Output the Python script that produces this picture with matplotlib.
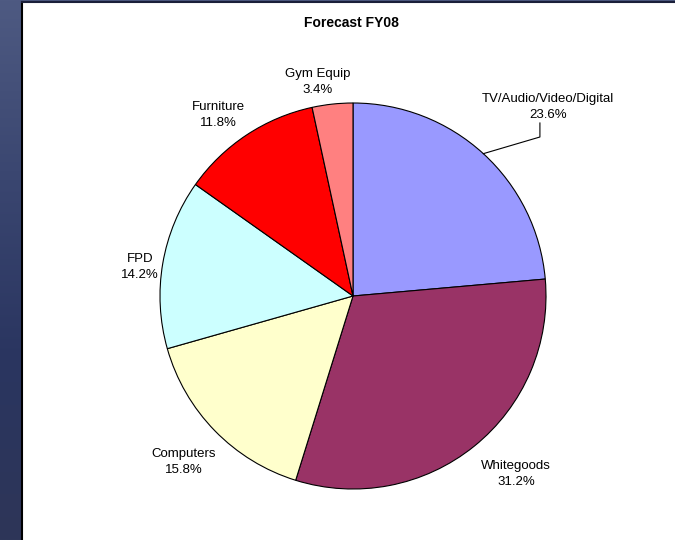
import numpy as np
import matplotlib
matplotlib.use("Agg")
import matplotlib.pyplot as plt

# Forecast FY08 shares
categories = ['TV/Audio/Video/Digital', 'Whitegoods', 'Computers', 'FPD', 'Furniture', 'Gym Equip']
shares = [23.6, 31.2, 15.8, 14.2, 11.8, 3.4]
colors = ['#9999FF', '#993366', '#FFFFCC', '#CCFFFF', '#FF0000', '#FF8080']
# label placement: distance (in radii) and angle shift (deg) from slice middle
label_dist = [1.414, 1.243, 1.22, 1.115, 1.178, 1.134]
label_shift = [-3.1, 3.9, -0.2, 1.4, 2.9, 3.1]

plt.rcParams['font.family'] = ['Liberation Sans', 'DejaVu Sans']

fig = plt.figure(figsize=(6.75, 5.4), dpi=100)

# slide background strip on the left
bg = fig.add_axes([0, 0, 1, 1])
grad = np.linspace(0, 1, 256).reshape(-1, 1)
bg.imshow(grad, aspect='auto', extent=[0, 1, 0, 1],
          cmap=matplotlib.colors.LinearSegmentedColormap.from_list(
              'bg', ['#4e5a82', '#3a4670', '#2a3560', '#2e3658']))
bg.axis('off')

# white chart area
W, H = 675, 540
ax = fig.add_axes([22 / W, 0, (W - 22) / W, (H - 2) / H])
ax.set_facecolor('white')

cx, cy, r = 353, 244, 193
wedges, _ = ax.pie(shares, colors=colors, startangle=90, counterclock=False,
                   center=(cx, cy), radius=r, frame=True,
                   wedgeprops=dict(edgecolor='black', linewidth=0.8))
ax.set_xlim(22, W)
ax.set_ylim(0, H - 2)
ax.set_aspect('equal')
ax.set_xticks([])
ax.set_yticks([])
for side in ['right', 'bottom']:
    ax.spines[side].set_visible(False)
ax.spines['left'].set_linewidth(1.5)
ax.spines['top'].set_color('#1a1f3a')
ax.spines['top'].set_linewidth(1.5)

for i, w in enumerate(wedges):
    mid = (w.theta1 + w.theta2) / 2
    a = np.deg2rad(mid + label_shift[i])
    d = label_dist[i] * r
    tx, ty = cx + d * np.cos(a), cy + d * np.sin(a) - 2
    ax.text(tx, ty, f'{categories[i]}\n{shares[i]:.1f}%', ha='center', va='center',
            fontsize=9.5, linespacing=1.45)
    if i == 0:
        m = np.deg2rad(mid)
        ex, ey = cx + r * np.cos(m), cy + r * np.sin(m)
        ax.plot([ex, tx - 8, tx - 8], [ey, ty - 30, ty - 16], color='black', lw=0.8)

ax.text(351, H - 23, 'Forecast FY08', ha='center', va='center', fontsize=10, fontweight='bold')

fig.savefig('out.png', dpi=100)
